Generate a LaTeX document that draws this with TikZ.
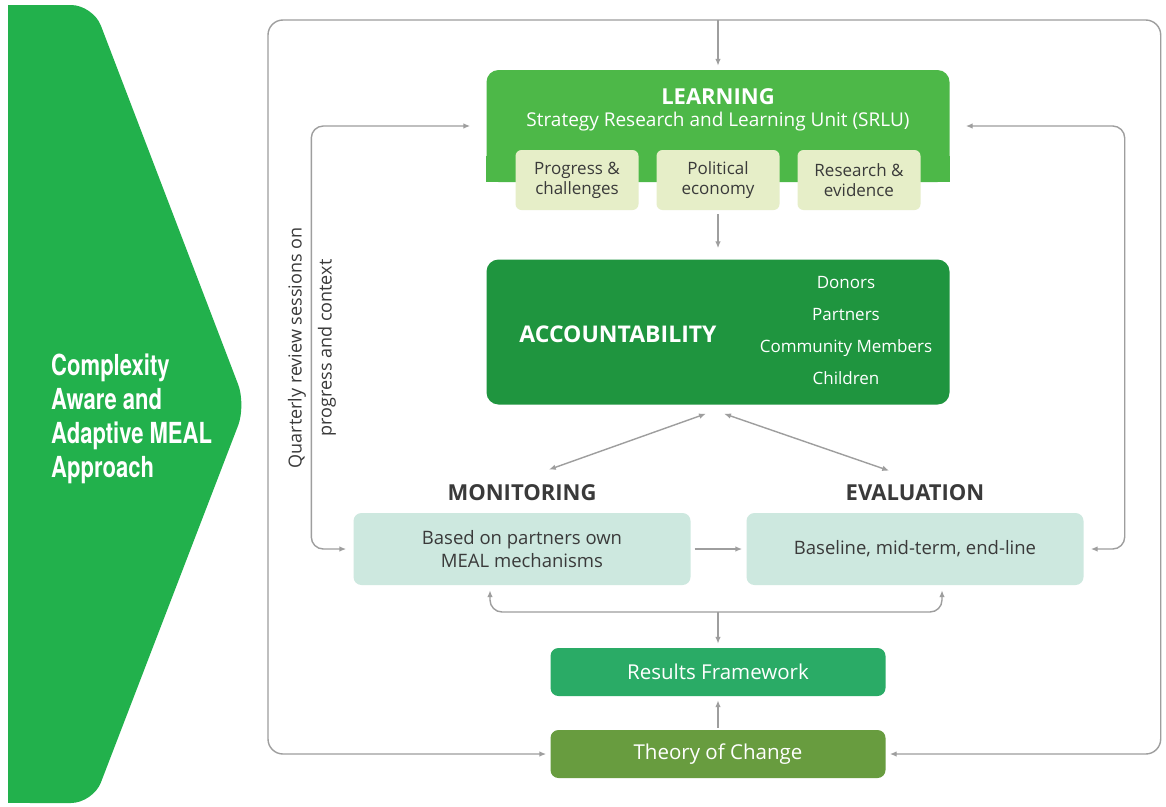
\documentclass[tikz,border=0pt]{standalone}
\usepackage{fontspec}
\setmainfont{Open Sans}
\newfontfamily\chevfont[FakeStretch=0.76]{TeX Gyre Heros}
\usepackage{xcolor}
\usetikzlibrary{positioning, arrows.meta}

\definecolor{chevgreen}{HTML}{22B14C}
\definecolor{learngreen}{HTML}{4DB848}
\definecolor{subyellow}{HTML}{E6EEC8}
\definecolor{accgreen}{HTML}{1F953F}
\definecolor{mealteal}{HTML}{CDE8DF}
\definecolor{rfgreen}{HTML}{2AAB66}
\definecolor{tocgreen}{HTML}{689C3F}
\definecolor{textgray}{HTML}{3A3A3A}
\definecolor{linegray}{HTML}{9E9E9E}

\tikzset{
    panel/.style={rounded corners=12pt, minimum width=463pt, text=white},
    sub/.style={fill=subyellow, rounded corners=6pt, minimum width=123pt, minimum height=60pt,
        align=center, text=textgray, font=\fontsize{17}{20}\selectfont},
    mealbox/.style={fill=mealteal, rounded corners=8pt, minimum width=337pt, minimum height=72pt,
        align=center, text=textgray, font=\fontsize{18.5}{23}\selectfont},
    basebox/.style={rounded corners=8pt, minimum width=335pt, minimum height=48pt,
        text=white, font=\fontsize{20.5}{22}\selectfont},
    heading/.style={font=\bfseries\fontsize{22}{24}\selectfont, text=textgray},
    title/.style={font=\bfseries\fontsize{22}{24}\selectfont, text=white},
    link/.style={draw=linegray, line width=1.4pt, shorten >=4pt},
}

\begin{document}
\begin{tikzpicture}[x=1pt, y=-1pt, node distance=141pt, on grid, >={Latex[length=7pt,width=5.5pt]}]

    \fill[white] (0,0) rectangle (1166,806);
    \useasboundingbox (0,0) rectangle (1166,806);

    % Chevron on the left
    \fill[chevgreen, rounded corners=22pt] (8,5) -- (93,5) -- (246,405) -- (93,803) -- (8,803) -- cycle;
    \fill[chevgreen] (8,5) rectangle (40,803);
    \node[anchor=west, align=left, inner sep=0pt, text=white,
        font=\chevfont\bfseries\fontsize{29}{34}\selectfont] (meal) at (51,419)
        {Complexity\\Aware and\\Adaptive MEAL\\Approach};

    % Learning
    \node[panel, fill=learngreen, minimum height=112pt] (learn) at (718,126) {};
    \fill[learngreen] (learn.south west) rectangle ([yshift=-30pt]learn.east);
    \node[title] (learntitle) at (718,97) {LEARNING};
    \node[text=white, font=\fontsize{19}{22}\selectfont] (srlu) at (718,122) {Strategy Research and Learning Unit (SRLU)};
    \node[sub] (political) at (718,180) {Political\\economy};
    \node[sub, left=of political] (progress) {Progress \&\\challenges};
    \node[sub, right=of political] (research) {Research \&\\evidence};

    % Accountability
    \node[panel, fill=accgreen, minimum height=145pt] (acc) at (718,332) {};
    \node[title, font=\bfseries\fontsize{23}{24}\selectfont] (acctitle) at (618,334) {ACCOUNTABILITY};
    \node[text=white, align=center, font=\fontsize{17}{32}\selectfont] (groups) at (846,331)
        {Donors\\Partners\\Community Members\\Children};

    % Monitoring and evaluation
    \node[heading] (monlab) at (522,493) {MONITORING};
    \node[heading] (evallab) at (915,493) {EVALUATION};
    \node[mealbox] (mon) at (522,549) {Based on partners own\\MEAL mechanisms};
    \node[mealbox] (eval) at (915,549) {Baseline, mid-term, end-line};

    % Results framework and theory of change
    \node[basebox, fill=rfgreen] (rf) at (718,672) {Results Framework};
    \node[basebox, fill=tocgreen] (toc) at (718,754) {Theory of Change};

    \node[rotate=90, align=center, text=textgray, font=\fontsize{18}{30}\selectfont] (quarterly) at (312,348)
        {Quarterly review sessions on\\progress and context};

    \coordinate (topmid) at (718,20);
    \coordinate (accL) at ([xshift=-12pt,yshift=-9pt]acc.south);
    \coordinate (accR) at ([xshift=6pt,yshift=-9pt]acc.south);
    \coordinate (monend) at (545,471);
    \coordinate (evalend) at (893,472);
    \coordinate (fork) at (718,612);

    % Connectors
    \draw[link, <->, rounded corners=15pt, shorten <=4pt] (toc.west) -| (268,20) -| ([xshift=275pt]toc.east) -- (toc.east);
    \draw[link, ->] (topmid) -- (learn.north);
    \draw[link, ->, shorten <=4pt, shorten >=11pt] (political.south) -- (acc.north);
    \draw[link, <->] (accL) -- (monend);
    \draw[link, <->] (accR) -- (evalend);
    \draw[link, <->, rounded corners=12pt, shorten >=7pt] ([xshift=-16pt]learn.west) -| ([xshift=-42pt]mon.west) -- (mon.west);
    \draw[link, <->, rounded corners=12pt, shorten >=7pt] ([xshift=16pt]learn.east) -| ([xshift=41pt]eval.east) -- (eval.east);
    \draw[link, ->, shorten <=4pt] (mon.east) -- (eval.west);
    \draw[link, <->, rounded corners=12pt, shorten <=5pt, shorten >=5pt] ([xshift=-32pt]mon.south) |- (fork) -| ([xshift=27pt]eval.south);
    \draw[link, ->] (fork) -- (rf.north);
    \draw[link, ->, shorten <=2pt] (toc.north) -- (rf.south);

\end{tikzpicture}
\end{document}
